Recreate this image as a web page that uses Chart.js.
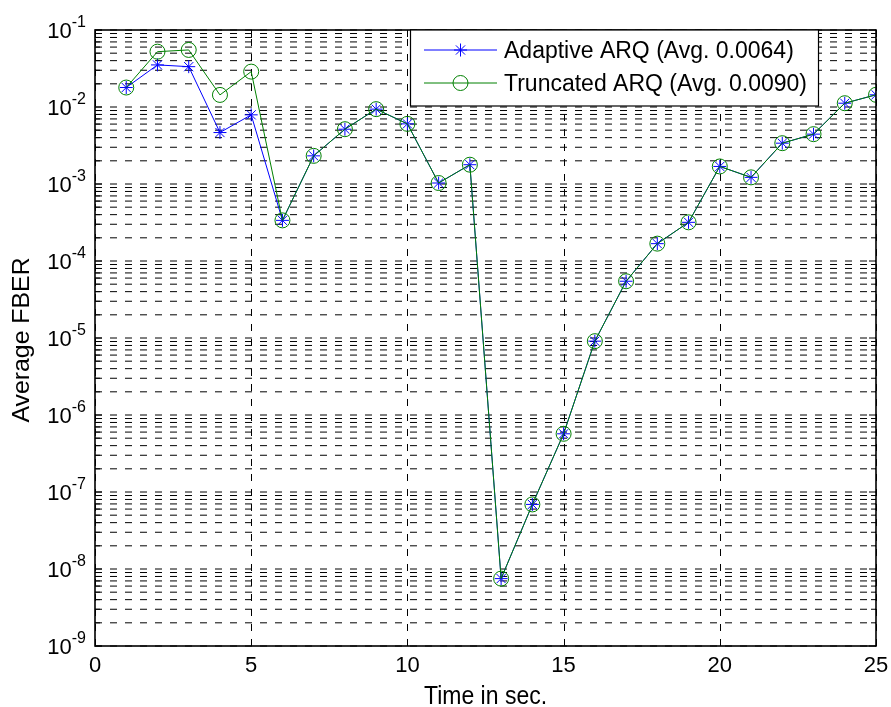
<!DOCTYPE html>
<html><head><meta charset="utf-8">
<script src="https://cdn.jsdelivr.net/npm/chart.js@4.4.0/dist/chart.umd.min.js"></script>
<style>html,body{margin:0;padding:0;background:#fff;}canvas{display:block;}</style>
</head><body>
<canvas id="c" width="891" height="707"></canvas>
<script>
// ---- data ----
const timeSec = [1,2,3,4,5,6,7,8,9,10,11,12,13,14,15,16,17,18,19,20,21,22,23,24,25];
const adaptiveFBER = [0.0179,0.0352,0.0334,0.00466,0.00791,0.000337,0.00232,0.00515,0.00938,0.00604,0.00103,0.00178,7.5e-9,6.9e-8,5.7e-7,9.1e-6,5.46e-5,1.68e-4,3.18e-4,0.00169,0.00122,0.00339,0.00444,0.0112,0.0144];
const truncatedFBER = [0.0179,0.0523,0.0551,0.01435,0.0288,0.000337,0.00232,0.00515,0.00938,0.00604,0.00103,0.00178,7.5e-9,6.9e-8,5.7e-7,9.1e-6,5.46e-5,1.68e-4,3.18e-4,0.00169,0.00122,0.00339,0.00444,0.0112,0.0144];
const seriesNames = ['Adaptive ARQ (Avg. 0.0064)', 'Truncated ARQ (Avg. 0.0090)'];
const xTickValues = [0,5,10,15,20,25];
const yDecadeExps = [-9,-8,-7,-6,-5,-4,-3,-2,-1];
const xTitle = 'Time in sec.';
const yTitle = 'Average FBER';

const FONT = '"Liberation Sans", Arial, Helvetica, sans-serif';
const BLUE = '#0000ff', GREEN = '#008000';

function yGridValues() {
  const v = [];
  yDecadeExps.forEach((e, i) => {
    const base = Math.pow(10, e);
    v.push({ value: base, major: true });
    if (i < yDecadeExps.length - 1) for (let m = 2; m <= 9; m++) v.push({ value: m * base, major: false });
  });
  return v;
}

function drawStar(ctx, x, y, r) {
  const d = r * Math.SQRT1_2;
  ctx.beginPath();
  ctx.moveTo(x - r, y); ctx.lineTo(x + r, y);
  ctx.moveTo(x, y - r); ctx.lineTo(x, y + r);
  ctx.moveTo(x - d, y - d); ctx.lineTo(x + d, y + d);
  ctx.moveTo(x - d, y + d); ctx.lineTo(x + d, y - d);
  ctx.stroke();
}

const gridPlugin = {
  id: 'matlabGrid',
  beforeDatasetsDraw(chart) {
    const { ctx, chartArea: a, scales: { x, y } } = chart;
    ctx.save();
    ctx.strokeStyle = '#000';
    ctx.lineWidth = 1;
    ctx.setLineDash([7, 8]);
    yGridValues().forEach(t => {
      const py = y.getPixelForValue(t.value);
      ctx.beginPath(); ctx.moveTo(a.left, py); ctx.lineTo(a.right, py); ctx.stroke();
    });
    xTickValues.forEach(v => {
      const px = Math.round(x.getPixelForValue(v)) + 0.5;
      ctx.beginPath(); ctx.moveTo(px, a.bottom); ctx.lineTo(px, a.top); ctx.stroke();
    });
    ctx.restore();
  },
  afterDraw(chart) {
    const { ctx, chartArea: a, scales: { x, y } } = chart;
    ctx.save();
    // axes box
    ctx.strokeStyle = '#000';
    ctx.lineWidth = 1.6;
    ctx.strokeRect(a.left, a.top, a.right - a.left, a.bottom - a.top);
    // inner ticks
    ctx.lineWidth = 1;
    ctx.beginPath();
    xTickValues.forEach(v => {
      const px = Math.round(x.getPixelForValue(v)) + 0.5;
      ctx.moveTo(px, a.bottom); ctx.lineTo(px, a.bottom - 7);
      ctx.moveTo(px, a.top); ctx.lineTo(px, a.top + 7);
    });
    yGridValues().forEach(t => {
      const py = y.getPixelForValue(t.value);
      const L = t.major ? 7 : 5;
      ctx.moveTo(a.left, py); ctx.lineTo(a.left + L, py);
      ctx.moveTo(a.right, py); ctx.lineTo(a.right - L, py);
    });
    ctx.stroke();

    ctx.fillStyle = '#000';
    // x tick labels
    ctx.font = '22px ' + FONT;
    ctx.textAlign = 'center';
    ctx.textBaseline = 'alphabetic';
    xTickValues.forEach(v => {
      ctx.fillText(String(v), x.getPixelForValue(v), 672);
    });
    // y tick labels 10^e
    yDecadeExps.forEach(e => {
      const py = y.getPixelForValue(Math.pow(10, e));
      const right = a.left - 9;
      ctx.font = '16px ' + FONT;
      ctx.textAlign = 'right';
      const expStr = String(e);
      const ew = ctx.measureText(expStr).width;
      ctx.fillText(expStr, right, py - 3);
      ctx.font = '22px ' + FONT;
      ctx.fillText('10', right - ew, py + 8);
    });
    // x title
    ctx.save();
    ctx.font = '23px ' + FONT;
    ctx.textAlign = 'center';
    ctx.translate((a.left + a.right) / 2, 704);
    ctx.scale(1, 1.15);
    ctx.fillText(xTitle, 0, 0);
    ctx.restore();
    // y title
    ctx.save();
    ctx.font = '23px ' + FONT;
    ctx.textAlign = 'center';
    ctx.translate(29, 340);
    ctx.rotate(-Math.PI / 2);
    ctx.scale(1.08, 1);
    ctx.fillText(yTitle, 0, 0);
    ctx.restore();

    // legend
    const lx = 410.5, ly = a.top, lw = 408, lh = 76;
    ctx.fillStyle = '#fff';
    ctx.fillRect(lx, ly, lw, lh);
    ctx.strokeStyle = '#000';
    ctx.lineWidth = 1.2;
    ctx.strokeRect(lx, ly, lw, lh);
    const rows = [
      { y: 50, color: BLUE, style: 'star', name: seriesNames[0] },
      { y: 83, color: GREEN, style: 'circle', name: seriesNames[1] }
    ];
    rows.forEach(r => {
      ctx.strokeStyle = r.color;
      ctx.lineWidth = 1;
      ctx.beginPath(); ctx.moveTo(424, r.y); ctx.lineTo(497, r.y); ctx.stroke();
      if (r.style === 'star') drawStar(ctx, 460.5, r.y, 6.5);
      else { ctx.beginPath(); ctx.arc(460.5, r.y, 7.5, 0, Math.PI * 2); ctx.stroke(); }
      ctx.fillStyle = '#000';
      ctx.font = '23px ' + FONT;
      ctx.textAlign = 'left';
      ctx.fillText(r.name, 504, r.y + 8);
    });
    ctx.restore();
  }
};

new Chart(document.getElementById('c'), {
  type: 'line',
  data: {
    datasets: [
      {
        label: seriesNames[0],
        data: timeSec.map((t, i) => ({ x: t, y: adaptiveFBER[i] })),
        borderColor: BLUE, backgroundColor: BLUE, borderWidth: 1,
        pointStyle: 'star', pointRadius: 6.5, pointBorderWidth: 1,
        pointBorderColor: BLUE, pointBackgroundColor: 'rgba(0,0,0,0)',
        fill: false, tension: 0, order: 2
      },
      {
        label: seriesNames[1],
        data: timeSec.map((t, i) => ({ x: t, y: truncatedFBER[i] })),
        borderColor: GREEN, backgroundColor: 'rgba(0,0,0,0)', borderWidth: 1,
        pointStyle: 'circle', pointRadius: 7.5, pointBorderWidth: 1,
        pointBorderColor: GREEN, pointBackgroundColor: 'rgba(0,0,0,0)',
        fill: false, tension: 0, order: 1
      }
    ]
  },
  options: {
    responsive: false,
    animation: false,
    devicePixelRatio: 1,
    events: [],
    layout: { padding: { left: 95, top: 30, right: 15, bottom: 61 } },
    plugins: { legend: { display: false }, tooltip: { enabled: false } },
    scales: {
      x: {
        type: 'linear', min: 0, max: 25,
        afterBuildTicks: s => { s.ticks = xTickValues.map(v => ({ value: v })); },
        ticks: { display: false },
        grid: { display: false, drawTicks: false },
        border: { display: false },
        title: { display: false }
      },
      y: {
        type: 'logarithmic', min: 1e-9, max: 1e-1,
        afterBuildTicks: s => { s.ticks = yGridValues().map(t => ({ value: t.value, major: t.major })); },
        ticks: { display: false },
        grid: { display: false, drawTicks: false },
        border: { display: false },
        title: { display: false }
      }
    }
  },
  plugins: [gridPlugin]
});
</script>
</body></html>
